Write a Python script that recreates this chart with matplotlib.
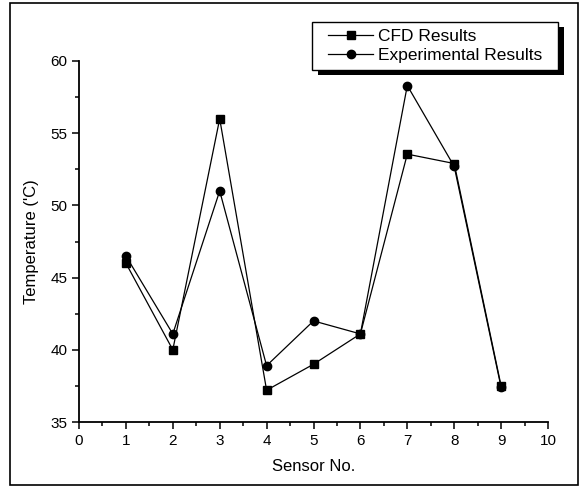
import matplotlib
matplotlib.use("Agg")
import matplotlib.pyplot as plt
from matplotlib.patches import Rectangle
from matplotlib.ticker import MultipleLocator

plt.rcParams["font.family"] = ["Liberation Sans", "DejaVu Sans"]

sensors = [1, 2, 3, 4, 5, 6, 7, 8, 9]
cfd = [46.0, 40.0, 56.0, 37.2, 39.0, 41.1, 53.55, 52.9, 37.5]
experimental = [46.5, 41.1, 51.0, 38.9, 42.0, 41.1, 58.3, 52.7, 37.4]

W, H = 584, 487
fig = plt.figure(figsize=(W / 100, H / 100), dpi=100)
ax = fig.add_axes([79 / W, 1 - 422 / H, (548 - 79) / W, (422 - 61) / H])


def px_rect(x0, y0, x1, y1, **kw):
    # rectangle given in pixel coords, y from top
    return Rectangle((x0 / W, 1 - y1 / H), (x1 - x0) / W, (y1 - y0) / H,
                     transform=fig.transFigure, clip_on=False, **kw)


# outer frame round the whole picture
fig.patches.append(px_rect(10, 3, 578, 485, fill=False, edgecolor="black", linewidth=1.2))

ax.plot(sensors, cfd, color="black", linewidth=0.9, marker="s", markersize=5.5,
        label="CFD Results")
ax.plot(sensors, experimental, color="black", linewidth=0.9, marker="o", markersize=6,
        label="Experimental Results")

ax.set_xlim(0, 10)
ax.set_ylim(35, 60)
ax.xaxis.set_major_locator(MultipleLocator(1))
ax.xaxis.set_minor_locator(MultipleLocator(0.5))
ax.yaxis.set_major_locator(MultipleLocator(5))
ax.yaxis.set_minor_locator(MultipleLocator(2.5))
ax.tick_params(which="major", direction="out", length=5, width=1.1, labelsize=11)
ax.tick_params(which="minor", direction="out", length=3, width=1.1)
for side in ("top", "right"):
    ax.spines[side].set_visible(False)
for side in ("left", "bottom"):
    ax.spines[side].set_linewidth(1.3)

ax.set_xlabel("Sensor No.", fontsize=12, labelpad=8)
ax.set_ylabel("Temperature ('C)", fontsize=12, labelpad=8)

# legend box with a hard black drop shadow, wider padding left/right than top/bottom
ax.add_patch(px_rect(318, 27, 564, 75, facecolor="black", edgecolor="none", zorder=4))
ax.add_patch(px_rect(312, 22, 558, 70, facecolor="white", edgecolor="black",
                     linewidth=1, zorder=4.5))
leg = ax.legend(loc="center", bbox_to_anchor=(435 / W, 1 - 46 / H),
                bbox_transform=fig.transFigure, borderaxespad=0, borderpad=0,
                fontsize=12.5, frameon=False, handlelength=2.6,
                labelspacing=0.2, handletextpad=0.25)
leg.set_zorder(5)

fig.savefig("out.png", dpi=100)
